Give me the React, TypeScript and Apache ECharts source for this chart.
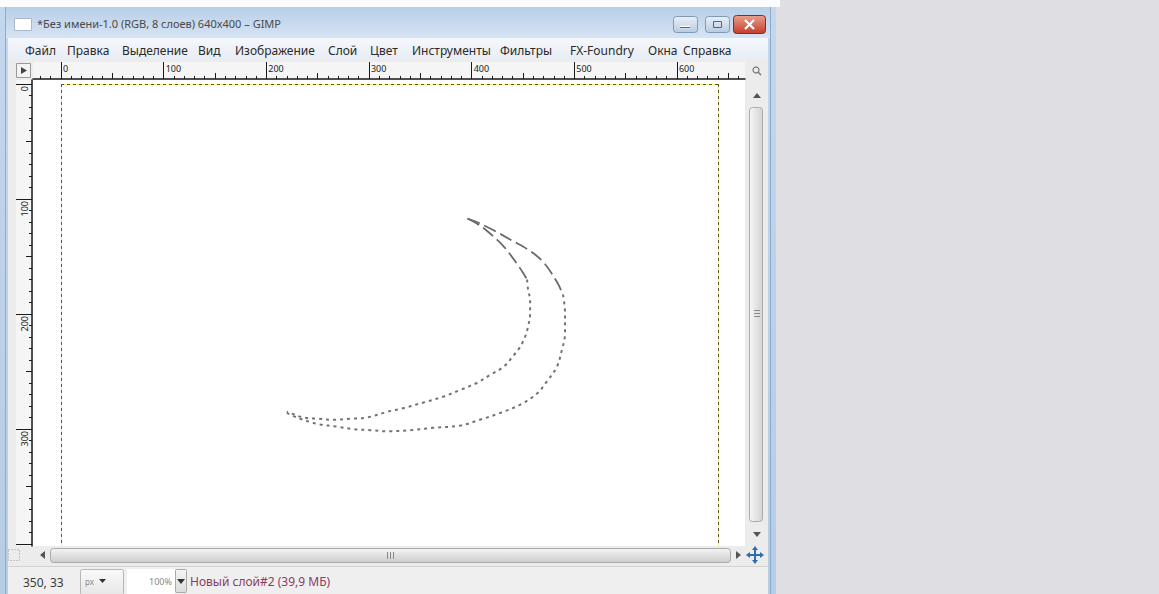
import React, { useEffect, useRef } from "react";
import * as echarts from "echarts";

// ---- Data: the two crescent strokes, in image pixels (640 x 400 canvas) ----
const outerDashed: number[][] = [
  [396, 117], [405, 120], [421, 127], [439, 136], [455, 144], [470, 155], [483, 172], [489, 183],
];
const outerDotted: number[][] = [
  [489, 183], [491, 199], [491, 217], [488, 231], [483, 246], [473, 259], [464, 269], [447, 279],
  [428, 286], [408, 292], [389, 297], [362, 299], [340, 301], [318, 302], [301, 301], [284, 300],
  [269, 298], [252, 296], [243, 294], [230, 290], [220, 286],
];
const innerDashed: number[][] = [
  [396, 117], [408, 123], [418, 130], [432, 142], [447, 160], [454, 170],
];
const innerDotted: number[][] = [
  [454, 170], [455, 179], [457, 188], [457, 199], [455, 211], [452, 220], [447, 229], [440, 237],
  [431, 246], [418, 253], [405, 260], [389, 266], [372, 272], [353, 277], [333, 282], [318, 285],
  [298, 290], [282, 291], [266, 292], [249, 291], [236, 290], [226, 287], [220, 285],
];

// ---- Ruler tick labels ----
const hRulerMajor = [0, 100, 200, 300, 400, 500, 600];
const vRulerMajor = [0, 100, 200, 300];
const vRulerTicks = [0, 100, 200, 300, 400];

// ---- Texts ----
const titleText = "*Без имени-1.0 (RGB, 8 слоев) 640x400 – GIMP";
const menuItems = [
  "Файл", "Правка", "Выделение", "Вид", "Изображение", "Слой", "Цвет",
  "Инструменты", "Фильтры", "FX-Foundry", "Окна", "Справка",
];
const statusCoords = "350, 33";
const statusUnit = "px";
const statusZoom = "100%";
const statusLayer = "Новый слой#2 (39,9 МБ)";

// ---- Layout (positions only) ----
const menuX = [25, 67, 122, 198, 235, 328, 370, 412, 500, 570, 648, 683];
const IMG_W = 640;
const IMG_H = 400;
const CV = { left: 61, top: 84, width: 657, height: 460 };
const SX = CV.width / IMG_W;
const SY = CV.height / IMG_H;
const HR = { left: 33, top: 62, width: 712, height: 17 };
const VR = { left: 16, top: 80, width: 16, height: 466 };

function range(a: number, b: number, step: number) {
  const out: number[] = [];
  for (let v = a; v <= b; v += step) out.push(v);
  return out;
}

function buildOption() {
  const G = echarts.graphic;
  const vgrad = (c1: string, c2: string) =>
    new G.LinearGradient(0, 0, 0, 1, [{ offset: 0, color: c1 }, { offset: 1, color: c2 }]);
  const hgrad = (c1: string, c2: string) =>
    new G.LinearGradient(0, 0, 1, 0, [{ offset: 0, color: c1 }, { offset: 1, color: c2 }]);

  const rect = (x: number, y: number, w: number, h: number, fill: any, o: any = {}) => ({
    type: "rect",
    shape: { x, y, width: w, height: h, r: o.r || 0 },
    style: { fill, stroke: o.stroke || null, lineWidth: o.lw ?? 1, lineDash: o.dash || null },
    z: o.z ?? -10,
    silent: true,
  });
  const text = (x: number, y: number, t: string, o: any = {}) => ({
    type: "text",
    x,
    y,
    style: {
      text: t,
      fill: o.color || "#333",
      fontSize: o.size || 12,
      fontFamily: o.family || "Noto Sans",
      align: o.align || "left",
      verticalAlign: "middle",
    },
    z: 20,
    silent: true,
  });
  const line = (x1: number, y1: number, x2: number, y2: number, stroke: string, lw = 1, dash: any = null, z = 10) => ({
    type: "line",
    shape: { x1, y1, x2, y2 },
    style: { stroke, lineWidth: lw, lineDash: dash },
    z,
    silent: true,
  });
  const poly = (pts: number[][], fill: string, z = 20) => ({
    type: "polygon",
    shape: { points: pts },
    style: { fill },
    z,
    silent: true,
  });

  const cvRight = CV.left + CV.width;
  const viewBottom = 546;

  const graphics: any[] = [
    // window frame
    rect(0, 0, 776, 594, vgrad("#c3d7ee", "#b6cde6"), { z: -20 }),
    rect(0, 0, 780, 7, "#fbfcfe", { z: -19 }),
    rect(5, 7, 766, 31, vgrad("#b8cee8", "#d6e4f3"), { z: -19 }),
    line(5.5, 7, 5.5, 594, "#93abc6", 1, null, -18),
    line(770.5, 7, 770.5, 594, "#8eaacb", 1, null, -18),
    // menu bar
    rect(8, 38, 760, 22, vgrad("#f5f8fc", "#e7edf5"), { z: -18 }),
    // client area
    rect(8, 60, 760, 506, "#ececec", { z: -18 }),
    // view (white)
    rect(33, 80, 712, 466, "#ffffff", { z: -17 }),
    // rulers
    rect(HR.left, HR.top, HR.width, HR.height, "#f5f5f5", { z: -16 }),
    rect(VR.left, VR.top, VR.width, VR.height, "#f5f5f5", { z: -16 }),
    rect(16.5, 63.5, 14, 14, "#f3f3f3", { stroke: "#9a9a9a", z: -15 }),
    poly([[21, 67], [21, 74], [27, 70.5]], "#444"),
    // canvas border (yellow / dark dashed)
    line(CV.left + 0.5, CV.top, CV.left + 0.5, viewBottom, "#f2f07a", 1, null, -6),
    line(cvRight + 0.5, CV.top, cvRight + 0.5, viewBottom, "#f2f07a", 1, null, -6),
    line(CV.left, CV.top + 0.5, cvRight, CV.top + 0.5, "#f2f07a", 1, null, -6),
    line(CV.left + 0.5, CV.top, CV.left + 0.5, viewBottom, "#5a5a32", 1, [3, 3], -5),
    line(cvRight + 0.5, CV.top, cvRight + 0.5, viewBottom, "#5a5a32", 1, [3, 3], -5),
    line(CV.left, CV.top + 0.5, cvRight, CV.top + 0.5, "#5a5a32", 1, [3, 3], -5),
    // right scrollbar
    { type: "circle", shape: { cx: 756, cy: 70, r: 3 }, style: { fill: "none", stroke: "#777", lineWidth: 1.2 }, z: 20, silent: true },
    line(758, 72, 761, 75, "#777", 1.5, null, 20),
    poly([[753, 98], [761, 98], [757, 93]], "#555"),
    rect(749.5, 107.5, 13, 414, hgrad("#f6f6f6", "#d3d3d3"), { stroke: "#ababab", r: 3, z: -14 }),
    line(754, 310.5, 760, 310.5, "#888", 1, null, 20),
    line(754, 313.5, 760, 313.5, "#888", 1, null, 20),
    line(754, 316.5, 760, 316.5, "#888", 1, null, 20),
    poly([[753, 532], [761, 532], [757, 537]], "#555"),
    // bottom scrollbar
    rect(8, 546, 760, 20, "#ececec", { z: -15 }),
    rect(8.5, 549.5, 11, 11, "none", { stroke: "#9a9a9a", dash: [1, 2], z: 20 }),
    poly([[45, 551], [45, 559], [40, 555]], "#555"),
    rect(50.5, 548.5, 680, 14, vgrad("#f4f4f4", "#cdcdcd"), { stroke: "#ababab", r: 3, z: -14 }),
    line(387.5, 552, 387.5, 559, "#888", 1, null, 20),
    line(390.5, 552, 390.5, 559, "#888", 1, null, 20),
    line(393.5, 552, 393.5, 559, "#888", 1, null, 20),
    poly([[736, 551], [736, 559], [741, 555]], "#555"),
    line(748, 555, 762, 555, "#2f6db3", 2, null, 20),
    line(755, 548, 755, 562, "#2f6db3", 2, null, 20),
    poly([[746, 555], [750, 552], [750, 558]], "#2f6db3"),
    poly([[764, 555], [760, 552], [760, 558]], "#2f6db3"),
    poly([[755, 546], [752, 550], [758, 550]], "#2f6db3"),
    poly([[755, 564], [752, 560], [758, 560]], "#2f6db3"),
    // status bar
    rect(8, 566, 760, 28, "#efefef", { z: -15 }),
    line(8, 566.5, 768, 566.5, "#d2d2d2", 1, null, -14),
    rect(80.5, 569.5, 43, 26, vgrad("#fafafa", "#e6e6e6"), { stroke: "#b5b5b5", r: 2, z: -13 }),
    rect(127, 569, 48, 25, "#ffffff", { z: -13 }),
    rect(175.5, 569.5, 11, 23, vgrad("#f5f5f5", "#dcdcdc"), { stroke: "#a9a9a9", r: 1, z: -13 }),
    poly([[177, 579], [185, 579], [181, 584]], "#333"),
    poly([[99, 579], [106, 579], [102.5, 583]], "#333"),
    // title bar icon & buttons
    rect(14.5, 18.5, 17, 12, "#ffffff", { stroke: "#a8b8cc", z: -12 }),
    rect(673.5, 16.5, 24, 16, vgrad("#e9f0f8", "#b7cbe2"), { stroke: "#7f98b5", r: 3, z: -12 }),
    line(680, 27, 690, 27, "#ffffff", 2.5, null, 20),
    line(680, 27.5, 690, 27.5, "#4d6788", 1, null, 21),
    rect(705.5, 16.5, 24, 16, vgrad("#e9f0f8", "#b7cbe2"), { stroke: "#7f98b5", r: 3, z: -12 }),
    rect(713.5, 21.5, 8, 6, "none", { stroke: "#4d6788", z: 20 }),
    rect(733.5, 15.5, 32, 18, vgrad("#eba08f", "#c43d2a"), { stroke: "#8b2a1f", r: 3, z: -12 }),
    line(745, 20, 754, 29, "#ffffff", 2.2, null, 20),
    line(754, 20, 745, 29, "#ffffff", 2.2, null, 20),
    // texts
    text(37, 23, titleText, { size: 11, color: "#4a4a4a" }),
    text(23, 582, statusCoords, { size: 12, color: "#3a3a3a" }),
    text(85, 581, statusUnit, { size: 8, color: "#888" }),
    text(172, 581, statusZoom, { size: 9, color: "#888", align: "right" }),
    text(190, 581, statusLayer, { size: 12, color: "#8a3d5e" }),
  ];
  menuItems.forEach((m, i) => {
    graphics.push(text(menuX[i], 50, m, { size: 12, color: "#2a2a2a" }));
  });

  // ruler axis extents in image units
  const hMin = (HR.left - CV.left) / SX;
  const hMax = (HR.left + HR.width - CV.left) / SX;
  const vMin = (VR.top - CV.top) / SY;
  const vMax = (VR.top + VR.height - CV.top) / SY;

  const hTens = range(-20, 660, 10);
  const hFifties = range(-50, 650, 50);
  const vTens = range(0, 400, 10);
  const vFifties = range(0, 400, 50);

  const noSplit = { show: false };
  const hidden = { show: false, splitLine: noSplit };

  const tickAxisX = (values: number[], len: number, withLine: boolean, labels: number[] | null) => ({
    gridIndex: 1,
    type: "value",
    position: "bottom",
    min: hMin,
    max: hMax,
    splitLine: noSplit,
    axisLine: { show: withLine, onZero: false, lineStyle: { color: "#1a1a1a", width: 1.5 } },
    axisTick: { show: true, inside: true, length: len, customValues: values, lineStyle: { color: "#1a1a1a", width: 1 } },
    axisLabel: labels
      ? {
          show: true,
          inside: true,
          customValues: labels,
          margin: 6,
          align: "left",
          verticalAlign: "bottom",
          padding: [0, 0, 0, 2],
          fontSize: 9,
          fontFamily: "Noto Sans",
          color: "#222",
        }
      : { show: false },
  });
  const tickAxisY = (values: number[], len: number, withLine: boolean, labels: number[] | null) => ({
    gridIndex: 2,
    type: "value",
    position: "right",
    inverse: true,
    min: vMin,
    max: vMax,
    splitLine: noSplit,
    axisLine: { show: withLine, onZero: false, lineStyle: { color: "#1a1a1a", width: 1.5 } },
    axisTick: { show: true, inside: true, length: len, customValues: values, lineStyle: { color: "#1a1a1a", width: 1 } },
    axisLabel: labels
      ? {
          show: true,
          inside: true,
          customValues: labels,
          margin: 8,
          rotate: 90,
          align: "right",
          verticalAlign: "middle",
          padding: [0, 2, 0, 0],
          fontSize: 9,
          fontFamily: "Noto Sans",
          color: "#222",
        }
      : { show: false },
  });

  const dashedStyle = { color: "#6a6a6a", width: 1.8, type: [13, 5] };
  const dottedStyle = { color: "#737373", width: 2, type: [3, 4] };
  const lineSeries = (name: string, data: number[][], style: any) => ({
    name,
    type: "line",
    xAxisIndex: 0,
    yAxisIndex: 0,
    data,
    smooth: 0.35,
    symbol: "none",
    showSymbol: false,
    lineStyle: style,
    silent: true,
  });

  return {
    animation: false,
    backgroundColor: "#dfdfe3",
    grid: [
      { left: CV.left, top: CV.top, width: CV.width, height: CV.height },
      { left: HR.left, top: HR.top, width: HR.width, height: HR.height },
      { left: VR.left, top: VR.top, width: VR.width, height: VR.height },
    ],
    xAxis: [
      { gridIndex: 0, type: "value", min: 0, max: IMG_W, ...hidden },
      tickAxisX(hRulerMajor, HR.height, true, hRulerMajor),
      tickAxisX(hTens, 3, false, null),
      tickAxisX(hFifties, 6, false, null),
      { gridIndex: 2, type: "value", min: 0, max: 1, ...hidden },
    ],
    yAxis: [
      { gridIndex: 0, type: "value", min: 0, max: IMG_H, inverse: true, ...hidden },
      { gridIndex: 1, type: "value", min: 0, max: 1, ...hidden },
      tickAxisY(vRulerTicks, VR.width, true, vRulerMajor),
      tickAxisY(vTens, 3, false, null),
      tickAxisY(vFifties, 6, false, null),
    ],
    graphic: { elements: graphics },
    series: [
      lineSeries("outer-dashed", outerDashed, dashedStyle),
      lineSeries("outer-dotted", outerDotted, dottedStyle),
      lineSeries("inner-dashed", innerDashed, dashedStyle),
      lineSeries("inner-dotted", innerDotted, dottedStyle),
    ],
  };
}

export default function App() {
  const ref = useRef<HTMLDivElement>(null);
  useEffect(() => {
    document.body.style.margin = "0";
    const chart = echarts.init(ref.current as HTMLDivElement, null, { renderer: "svg" });
    chart.setOption(buildOption() as any);
    return () => chart.dispose();
  }, []);
  return <div ref={ref} style={{ position: "fixed", left: 0, top: 0, width: 1159, height: 594 }} />;
}
